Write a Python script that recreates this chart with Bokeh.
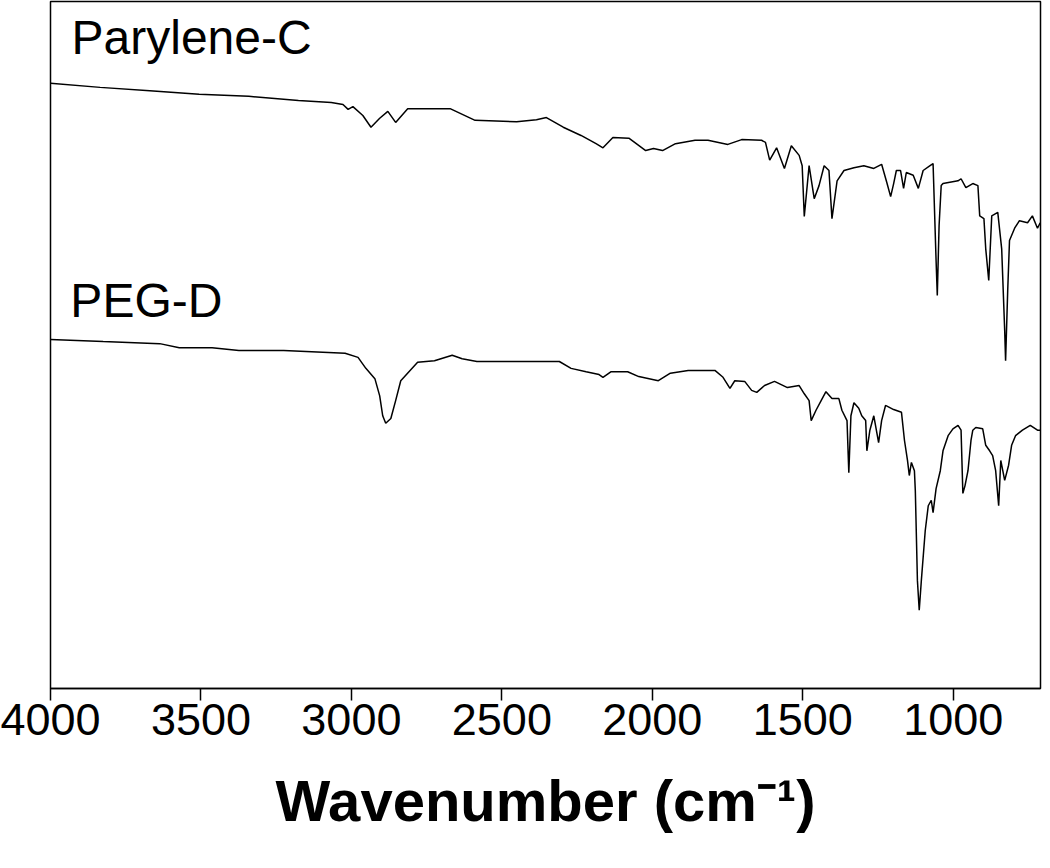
from bokeh.plotting import figure
from bokeh.models import Range1d, Label, FixedTicker
from bokeh.embed import file_html
from bokeh.resources import INLINE

# Parylene-C spectrum (wavenumber cm-1, transmittance a.u.)
parylene_wn = [4000, 3835, 3670, 3506, 3341, 3176, 3067, 3028, 3011, 2995, 2962, 2935, 2906, 2879,
               2853, 2813, 2672, 2589, 2451, 2385, 2352, 2296, 2237, 2187, 2164, 2131, 2078, 2022,
               1996, 1966, 1923, 1858, 1815, 1749, 1703, 1637, 1624, 1610, 1587, 1561, 1538, 1512,
               1502, 1495, 1479, 1462, 1446, 1429, 1413, 1403, 1386, 1363, 1330, 1297, 1264, 1238,
               1221, 1208, 1198, 1189, 1175, 1165, 1156, 1133, 1116, 1100, 1077, 1067, 1057, 1053,
               1047, 1040, 1034, 984, 974, 958, 935, 918, 912, 898, 892, 882, 872, 852, 839, 829,
               826, 819, 813, 796, 780, 753, 737, 720, 711]
parylene_t = [88.1, 87.5, 87.0, 86.5, 86.2, 85.6, 85.3, 85.0, 84.3, 84.7, 83.4, 81.7, 83.0, 84.0,
              82.4, 84.4, 84.4, 82.7, 82.5, 82.8, 83.1, 81.7, 80.5, 79.3, 78.7, 80.2, 80.1, 78.3,
              78.6, 78.3, 79.3, 79.8, 79.8, 79.2, 79.9, 79.8, 79.5, 76.9, 78.7, 75.7, 79.0, 77.6,
              76.1, 68.7, 76.1, 71.3, 73.2, 76.1, 75.4, 68.4, 73.9, 75.4, 75.8, 76.1, 75.7, 76.3,
              73.7, 71.6, 73.5, 75.4, 75.4, 72.8, 75.1, 74.7, 72.8, 75.4, 76.1, 76.4, 62.3, 57.2,
              67.4, 73.2, 73.5, 73.9, 74.2, 72.9, 73.5, 73.2, 68.8, 68.4, 64.0, 59.4, 68.8, 69.3,
              64.0, 52.1, 47.7, 57.9, 65.2, 67.0, 68.1, 67.8, 68.8, 67.0, 67.8]

# PEG-D spectrum
peg_wn = [4000, 3825, 3637, 3572, 3463, 3374, 3225, 3021, 2978, 2952, 2922, 2906, 2896, 2886,
          2869, 2853, 2836, 2780, 2724, 2665, 2632, 2583, 2309, 2270, 2220, 2177, 2164, 2138,
          2082, 2045, 1980, 1940, 1881, 1792, 1765, 1742, 1726, 1693, 1670, 1653, 1627, 1594,
          1551, 1512, 1495, 1479, 1472, 1456, 1439, 1423, 1403, 1380, 1370, 1353, 1347, 1340,
          1330, 1314, 1304, 1291, 1287, 1277, 1264, 1248, 1238, 1225, 1198, 1172, 1162, 1152,
          1146, 1139, 1129, 1126, 1119, 1113, 1106, 1093, 1083, 1073, 1067, 1057, 1043, 1034,
          1017, 1001, 984, 974, 968, 961, 951, 941, 935, 925, 902, 892, 879, 869, 859, 849,
          842, 829, 816, 806, 793, 770, 744, 720, 711]
peg_t = [50.8, 50.5, 50.2, 49.6, 49.6, 49.2, 49.2, 48.8, 48.2, 46.6, 45.1, 42.6, 39.7, 38.6,
         39.3, 41.9, 44.8, 47.5, 47.7, 48.5, 48.0, 47.6, 47.6, 46.6, 46.1, 45.7, 45.3, 46.1,
         46.1, 45.4, 44.8, 45.9, 46.3, 46.3, 45.3, 43.7, 44.8, 44.7, 43.4, 43.1, 44.1, 44.7,
         43.8, 44.1, 42.9, 41.9, 39.0, 40.5, 41.9, 43.2, 42.2, 42.2, 40.5, 39.0, 31.4, 39.7,
         41.6, 40.8, 39.7, 39.0, 34.6, 37.6, 39.7, 35.8, 39.0, 41.2, 40.6, 40.2, 36.1, 33.2,
         31.0, 32.9, 31.7, 28.8, 15.7, 11.4, 15.7, 23.0, 26.6, 27.4, 25.6, 29.1, 31.7, 34.6,
         36.8, 37.8, 38.3, 37.6, 28.4, 29.5, 31.7, 36.1, 37.6, 38.0, 37.8, 35.4, 34.6, 33.9,
         31.7, 26.6, 33.2, 30.3, 32.5, 35.4, 36.8, 37.6, 38.3, 37.6, 37.6]

x_ticks = [4000, 3500, 3000, 2500, 2000, 1500, 1000]
series_names = ["Parylene-C", "PEG-D"]
x_title = "Wavenumber (cm\u207b\u00b9)"

p = figure(width=1042, height=860, x_range=Range1d(4000, 710), y_range=Range1d(0, 100),
           output_backend="svg", toolbar_location=None,
           min_border_left=50, min_border_right=2, min_border_top=1, min_border_bottom=172)

p.line(parylene_wn, parylene_t, line_color="black", line_width=1.5)
p.line(peg_wn, peg_t, line_color="black", line_width=1.5)

p.yaxis.visible = False
p.xgrid.visible = False
p.ygrid.visible = False
p.outline_line_color = "black"
p.outline_line_width = 1.5
p.background_fill_color = "white"
p.border_fill_color = "white"

ax = p.xaxis[0]
ax.ticker = FixedTicker(ticks=x_ticks)
ax.major_label_overrides = {t: str(t) for t in x_ticks}
ax.axis_line_color = "black"
ax.axis_line_width = 1.5
ax.major_tick_out = 12
ax.major_tick_in = 0
ax.major_tick_line_width = 1.5
ax.minor_tick_line_color = None
ax.major_label_text_font = "Liberation Sans"
ax.major_label_text_font_size = "45px"
ax.major_label_text_color = "black"
ax.major_label_standoff = 3
ax.axis_label = x_title
ax.axis_label_text_font = "Liberation Sans"
ax.axis_label_text_font_style = "bold"
ax.axis_label_text_font_size = "58px"
ax.axis_label_text_color = "black"
ax.axis_label_standoff = 30

p.add_layout(Label(x=3930, y=94.7, text=series_names[0], text_font="Liberation Sans",
                   text_font_size="48px", text_color="black", text_baseline="alphabetic"))
p.add_layout(Label(x=3934, y=56.5, text=series_names[1], text_font="Liberation Sans",
                   text_font_size="48px", text_color="black", text_baseline="alphabetic"))

open("out.html", "w").write(file_html(p, INLINE))
